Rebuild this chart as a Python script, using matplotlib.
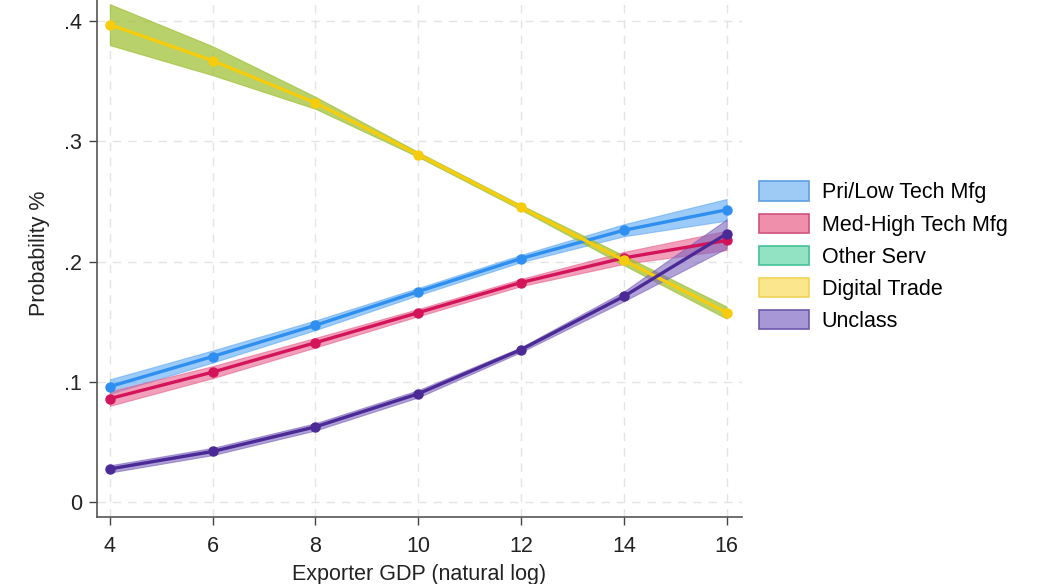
import matplotlib
matplotlib.use("Agg")
import matplotlib.pyplot as plt
from matplotlib.patches import Patch
import numpy as np

plt.rcParams['font.family'] = ['Liberation Sans', 'DejaVu Sans']

x = [4, 6, 8, 10, 12, 14, 16]
pri_low = [0.096, 0.121, 0.147, 0.175, 0.2025, 0.226, 0.243]
pri_low_ci = [0.006, 0.005, 0.004, 0.003, 0.003, 0.005, 0.009]
med_high = [0.086, 0.108, 0.1325, 0.1575, 0.1825, 0.203, 0.2175]
med_high_ci = [0.006, 0.005, 0.004, 0.003, 0.003, 0.005, 0.008]
digital = [0.397, 0.367, 0.332, 0.289, 0.245, 0.201, 0.1575]
digital_ci = [0.017, 0.012, 0.005, 0.002, 0.002, 0.004, 0.005]
unclass = [0.0275, 0.042, 0.0625, 0.090, 0.1267, 0.171, 0.223]
unclass_ci = [0.003, 0.003, 0.003, 0.003, 0.002, 0.004, 0.012]

labels = ["Pri/Low Tech Mfg", "Med-High Tech Mfg", "Other Serv", "Digital Trade", "Unclass"]
xticks = [4, 6, 8, 10, 12, 14, 16]
yticks = [0, 0.1, 0.2, 0.3, 0.4]
yticklabels = ["0", ".1", ".2", ".3", ".4"]

FS = 15.5

fig = plt.figure(figsize=(10.4, 5.84), dpi=100)
ax = fig.add_axes([0.0933, 0.1147, 0.7135 - 0.0933, 0.8853])

series = [
    (pri_low, pri_low_ci, "#2f8ff0", "#5aa8f5", 0.6),
    (med_high, med_high_ci, "#d4145a", "#e8608c", 0.6),
    (digital, digital_ci, "#f6cc0c", "#9fc032", 0.72),
    (unclass, unclass_ci, "#4b2a96", "#7c62bd", 0.6),
]
for vals, ci, lc, fc, a in series:
    v = np.array(vals); c = np.array(ci)
    ax.fill_between(x, v - c, v + c, color=fc, alpha=a, lw=0.8, edgecolor=fc, zorder=2)
for vals, ci, lc, fc, a in series:
    ax.plot(x, vals, color=lc, lw=2.4, marker='o', ms=6.5, zorder=3)

ax.set_xlim(3.75, 16.3)
ax.set_ylim(-0.0125, 0.4175)
ax.set_xticks(xticks)
ax.set_yticks(yticks)
ax.set_yticklabels(yticklabels)
ax.tick_params(axis='both', labelsize=FS, length=6, width=1, color='#444444', labelcolor='#222222', pad=5)
ax.tick_params(axis='x', pad=8)
ax.grid(True, ls=(0, (6, 5)), color='#e4e4e4', lw=1)
ax.set_axisbelow(True)
for s in ['top', 'right']:
    ax.spines[s].set_visible(False)
for s in ['left', 'bottom']:
    ax.spines[s].set_color('#555555')
    ax.spines[s].set_linewidth(1.2)
ax.set_xlabel("Exporter GDP (natural log)", fontsize=FS, color='#222222', labelpad=5)
ax.set_ylabel("Probability %", fontsize=FS, color='#222222')
ax.yaxis.set_label_coords(-0.073, 0.51)

handles = [
    Patch(facecolor="#9dcbf6", edgecolor="#5e9ee2", lw=1.2),
    Patch(facecolor="#ef8fab", edgecolor="#d0527c", lw=1.2),
    Patch(facecolor="#92e2c4", edgecolor="#45c194", lw=1.2),
    Patch(facecolor="#fbe68e", edgecolor="#f0d356", lw=1.2),
    Patch(facecolor="#a797d6", edgecolor="#6c58aa", lw=1.2),
]
fig.legend(handles, labels, loc='upper left', bbox_to_anchor=(0.7115, 0.7225), frameon=False,
           fontsize=FS, handlelength=2.3, handleheight=1.0, handletextpad=0.6, labelspacing=0.47)

fig.savefig("out.png", dpi=100)
